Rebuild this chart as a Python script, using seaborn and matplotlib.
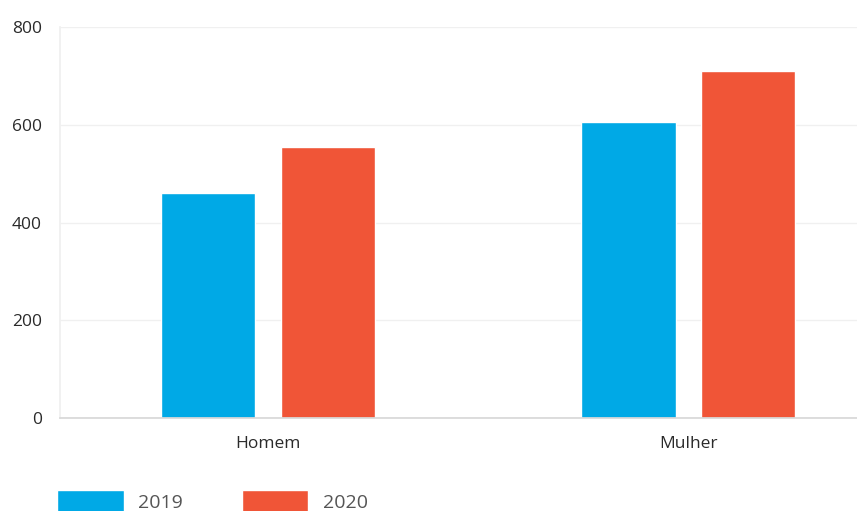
import numpy as np
import pandas as pd
import seaborn as sns
import matplotlib.pyplot as plt

categories = ["Homem", "Mulher"]
years = ["2019", "2020"]
values_2019 = [460, 605]
values_2020 = [554, 710]

df = pd.DataFrame({
    "sexo": categories * 2,
    "ano": [years[0]] * 2 + [years[1]] * 2,
    "valor": values_2019 + values_2020,
})

sns.set_theme(style="white")
plt.rcParams["font.family"] = ["Open Sans", "DejaVu Sans"]

palette = {"2019": "#00A9E6", "2020": "#F05537"}

fig = plt.figure(figsize=(8.57, 5.11), dpi=100)
ax = fig.add_axes([0.07, 0.182, 0.93, 0.765])

sns.barplot(data=df, x="sexo", y="valor", hue="ano", palette=palette,
            width=0.57, gap=0.21, saturation=1, ax=ax)

ax.set_xlim(-0.495, 1.402)
ax.set_ylim(0, 800)
ax.set_yticks([0, 200, 400, 600, 800])
ax.set_xlabel("")
ax.set_ylabel("")
ax.yaxis.grid(True, color="#f0f0f0", linewidth=1)
ax.set_axisbelow(True)
ax.tick_params(axis="both", length=0, labelsize=12.5, colors="#2a2a2a")
ax.tick_params(axis="y", pad=13)
ax.tick_params(axis="x", pad=13)
for s in ["top", "right"]:
    ax.spines[s].set_visible(False)
ax.spines["left"].set_color("#f0f0f0")
ax.spines["bottom"].set_color("#d8d8d8")

handles, labels = ax.get_legend_handles_labels()
ax.get_legend().remove()
fig.legend(handles, labels, loc="upper left", bbox_to_anchor=(0.067, 0.041),
           ncol=2, frameon=False, fontsize=14, labelcolor="#555555",
           handlelength=3.4, handleheight=1.4, handletextpad=0.75,
           columnspacing=3.05, borderpad=0, borderaxespad=0)

fig.savefig("out.png", dpi=100)
